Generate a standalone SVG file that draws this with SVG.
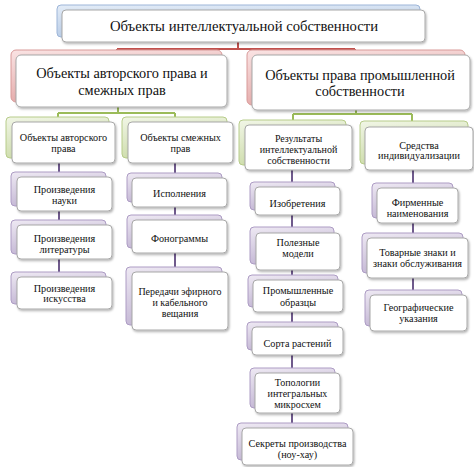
<svg xmlns="http://www.w3.org/2000/svg" width="474" height="467" viewBox="0 0 474 467" font-family="'Liberation Serif', 'Times New Roman', serif">
<defs>
<linearGradient id="gBlue" x1="0" y1="0" x2="0.3" y2="1"><stop offset="0" stop-color="#e3ecf7"/><stop offset="1" stop-color="#b7cbe6"/></linearGradient>
<linearGradient id="gRed" x1="0" y1="0" x2="0.3" y2="1"><stop offset="0" stop-color="#fae3e3"/><stop offset="1" stop-color="#e4a9a8"/></linearGradient>
<linearGradient id="gGreen" x1="0" y1="0" x2="0.3" y2="1"><stop offset="0" stop-color="#f1f6e6"/><stop offset="1" stop-color="#cddcaa"/></linearGradient>
<linearGradient id="gPurple" x1="0" y1="0" x2="0.3" y2="1"><stop offset="0" stop-color="#eee9f3"/><stop offset="1" stop-color="#c3b6d4"/></linearGradient>
<filter id="sh" x="-10%" y="-10%" width="125%" height="130%"><feDropShadow dx="1" dy="1.5" stdDeviation="1" flood-color="#000" flood-opacity="0.3"/></filter>
</defs>
<style>
.bb{fill:url(#gBlue);stroke:#9db5d8;stroke-width:1}
.br{fill:url(#gRed);stroke:#d89a99;stroke-width:1}
.bg{fill:url(#gGreen);stroke:#b7cc8a;stroke-width:1}
.bp{fill:url(#gPurple);stroke:#ad9cc4;stroke-width:1}
.f{fill:#ffffff;stroke:#a8a8a8;stroke-width:1;filter:url(#sh)}
text{font-family:'Liberation Serif','Times New Roman',serif;fill:#111111;text-anchor:middle}
.t1{font-size:14.7px}
.t2{font-size:14.3px}
.t3{font-size:10.2px}
.t4{font-size:10px}
.cr{stroke:#c0504d;stroke-width:2;fill:none}
.cg{stroke:#9bbb59;stroke-width:2;fill:none}
.cp{stroke:#6f5a8c;stroke-width:2;fill:none}
</style>
<rect width="474" height="467" fill="#ffffff"/>
<g id="connectors">
<path class="cr" d="M238,42 V49 M117,49 H355 M117,49 V55 M355,49 V55"/>
<path class="cg" d="M118,107 V113 M58,113 H175 M58,113 V120 M175,113 V120"/>
<path class="cg" d="M356,110 V114 M293,114 H412 M293,114 V122 M412,114 V122"/>
<path class="cp" d="M59,163 V277 M175,163 V272 M292,170 V428 M413,170 V295"/>
</g>
<g id="n-top"><rect class="bb" x="57" y="5" width="363" height="32" rx="4"/><rect class="f" x="62" y="10" width="363" height="32" rx="4"/><text class="t1" x="244" y="31">Объекты интеллектуальной собственности</text></g>
<g id="n-author-related"><rect class="br" x="11" y="50" width="211" height="52" rx="5"/><rect class="f" x="16" y="55" width="211" height="52" rx="5"/><text class="t2" x="122" y="78">Объекты авторского права и</text><text class="t2" x="122" y="95">смежных прав</text></g>
<g id="n-industrial"><rect class="br" x="247" y="50" width="218" height="55" rx="5"/><rect class="f" x="252" y="55" width="218" height="55" rx="5"/><text class="t2" x="360" y="80">Объекты права промышленной</text><text class="t2" x="360" y="96">собственности</text></g>
<g id="n-author"><rect class="bg" x="6" y="117" width="103" height="41" rx="4"/><rect class="f" x="12" y="122" width="103" height="41" rx="4"/><text class="t3" x="63.5" y="140.5">Объекты авторского</text><text class="t3" x="63.5" y="152">права</text></g>
<g id="n-related"><rect class="bg" x="122" y="117" width="105" height="41" rx="4"/><rect class="f" x="128" y="122" width="105" height="41" rx="4"/><text class="t3" x="180.5" y="140.5">Объекты смежных</text><text class="t3" x="180.5" y="152">прав</text></g>
<g id="n-results"><rect class="bg" x="239" y="120" width="107" height="45" rx="4"/><rect class="f" x="245" y="125" width="107" height="45" rx="4"/><text class="t4" x="298.5" y="141.5">Результаты</text><text class="t4" x="298.5" y="152.5">интеллектуальной</text><text class="t4" x="298.5" y="163.5">собственности</text></g>
<g id="n-means"><rect class="bg" x="360" y="121" width="108" height="43" rx="4"/><rect class="f" x="365" y="127" width="108" height="43" rx="4"/><text class="t3" x="419" y="148.5">Средства</text><text class="t3" x="419" y="159">индивидуализации</text></g>
<g id="n-science"><rect class="bp" x="11" y="172" width="95" height="34" rx="4"/><rect class="f" x="17" y="177" width="95" height="34" rx="4"/><text class="t3" x="64.5" y="192.5">Произведения</text><text class="t3" x="64.5" y="203.5">науки</text></g>
<g id="n-literature"><rect class="bp" x="11" y="220" width="95" height="34" rx="4"/><rect class="f" x="17" y="225" width="95" height="34" rx="4"/><text class="t3" x="64.5" y="241.5">Произведения</text><text class="t3" x="64.5" y="252.5">литературы</text></g>
<g id="n-art"><rect class="bp" x="11" y="272" width="95" height="32" rx="4"/><rect class="f" x="17" y="277" width="95" height="32" rx="4"/><text class="t3" x="64.5" y="291.5">Произведения</text><text class="t3" x="64.5" y="302">искусства</text></g>
<g id="n-performances"><rect class="bp" x="127" y="173" width="95" height="29" rx="4"/><rect class="f" x="132" y="178" width="95" height="29" rx="4"/><text class="t3" x="179.5" y="196.5">Исполнения</text></g>
<g id="n-phonograms"><rect class="bp" x="127" y="215" width="95" height="33" rx="4"/><rect class="f" x="132" y="220" width="95" height="33" rx="4"/><text class="t3" x="179.5" y="241.5">Фонограммы</text></g>
<g id="n-broadcasts"><rect class="bp" x="126" y="267" width="96" height="58" rx="4"/><rect class="f" x="132" y="272" width="96" height="58" rx="4"/><text class="t4" x="180" y="295">Передачи эфирного</text><text class="t4" x="180" y="306">и кабельного</text><text class="t4" x="180" y="317">вещания</text></g>
<g id="n-inventions"><rect class="bp" x="250" y="182" width="85" height="28" rx="4"/><rect class="f" x="255" y="187" width="85" height="28" rx="4"/><text class="t3" x="297.5" y="206.5">Изобретения</text></g>
<g id="n-utility"><rect class="bp" x="250" y="227" width="84" height="37" rx="4"/><rect class="f" x="256" y="233" width="84" height="37" rx="4"/><text class="t3" x="298" y="245.5">Полезные</text><text class="t3" x="298" y="256.5">модели</text></g>
<g id="n-designs"><rect class="bp" x="248" y="275" width="90" height="32" rx="4"/><rect class="f" x="253" y="280" width="90" height="32" rx="4"/><text class="t3" x="298" y="293.5">Промышленные</text><text class="t3" x="298" y="305.5">образцы</text></g>
<g id="n-plants"><rect class="bp" x="247" y="322" width="91" height="28" rx="4"/><rect class="f" x="252" y="327" width="91" height="28" rx="4"/><text class="t3" x="297.5" y="346.5">Сорта растений</text></g>
<g id="n-topologies"><rect class="bp" x="250" y="368" width="85" height="40" rx="4"/><rect class="f" x="255" y="373" width="85" height="40" rx="4"/><text class="t4" x="297.5" y="385.5">Топологии</text><text class="t4" x="297.5" y="396.5">интегральных</text><text class="t4" x="297.5" y="407.5">микросхем</text></g>
<g id="n-knowhow"><rect class="bp" x="237" y="423" width="111" height="37" rx="4"/><rect class="f" x="242" y="428" width="111" height="37" rx="4"/><text class="t3" x="297.5" y="446.5">Секреты производства</text><text class="t3" x="297.5" y="457.5">(ноу-хау)</text></g>
<g id="n-firm"><rect class="bp" x="372" y="183" width="81" height="35" rx="4"/><rect class="f" x="377" y="188" width="81" height="35" rx="4"/><text class="t3" x="417.5" y="205.5">Фирменные</text><text class="t3" x="417.5" y="216.5">наименования</text></g>
<g id="n-trademarks"><rect class="bp" x="362" y="233" width="101" height="40" rx="4"/><rect class="f" x="367" y="238" width="101" height="40" rx="4"/><text class="t3" x="417.5" y="255.5">Товарные знаки и</text><text class="t3" x="417.5" y="266.5">знаки обслуживания</text></g>
<g id="n-geo"><rect class="bp" x="365" y="290" width="97" height="36" rx="4"/><rect class="f" x="370" y="295" width="97" height="36" rx="4"/><text class="t3" x="418.5" y="310.5">Географические</text><text class="t3" x="418.5" y="321.5">указания</text></g>
</svg>
